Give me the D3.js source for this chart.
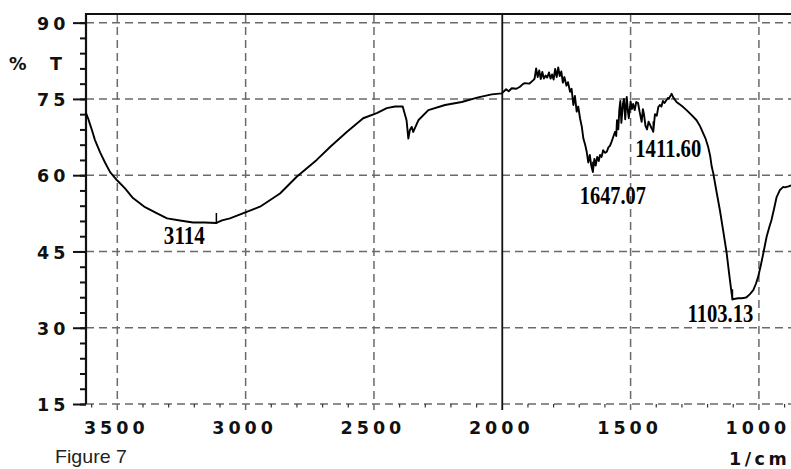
<!DOCTYPE html>
<html>
<head>
<meta charset="utf-8">
<script src="https://cdn.jsdelivr.net/npm/d3@7/dist/d3.min.js"></script>
<style>
  html, body { margin: 0; padding: 0; background: #fff; }
  svg { display: block; }
  .tick-lbl { font-family: "DejaVu Sans", sans-serif; font-weight: bold; font-size: 17.5px; letter-spacing: 4px; fill: #111; }
  .peak-lbl { font-family: "Liberation Serif", "Times New Roman", serif; font-weight: bold; font-size: 25px; fill: #000; }
</style>
</head>
<body>
<svg id="chart" width="791" height="469"></svg>
<script>
// FTIR spectrum: wavenumber (1/cm) against transmittance (%T)
const wavenumber = [
  3622, 3614, 3605, 3599, 3587, 3567, 3548, 3528, 3501, 3470, 3439, 3392, 3345, 3306, 3256, 3205, 3160, 3114,
  3092, 3061, 2996, 2944, 2866, 2801, 2723, 2670, 2606, 2542, 2489, 2450, 2418, 2388, 2373, 2366, 2360, 2353,
  2347, 2327, 2288, 2223, 2158, 2094, 2041, 2002, 1985, 1975, 1963, 1945, 1931, 1920, 1912, 1895, 1879, 1874,
  1868, 1862, 1856, 1850, 1844, 1838, 1831, 1825, 1818, 1812, 1806, 1800, 1794, 1788, 1782, 1776, 1770, 1764,
  1758, 1750, 1744, 1736, 1730, 1723, 1717, 1710, 1704, 1697, 1690, 1684, 1677, 1671, 1665, 1659, 1653, 1647.07,
  1641, 1636, 1630, 1624, 1619, 1613, 1607, 1600, 1593, 1586, 1580, 1574, 1567, 1561, 1556, 1553, 1548, 1544,
  1540, 1536, 1530, 1526, 1521, 1515, 1510, 1507, 1500, 1495, 1490, 1484, 1478, 1471, 1465, 1457, 1452, 1448,
  1442, 1436, 1430, 1425, 1418, 1411.6, 1405, 1398, 1392, 1386, 1380, 1374, 1368, 1360, 1355, 1351, 1346, 1340,
  1334, 1321, 1300, 1282, 1262, 1243, 1229, 1217, 1208, 1198, 1190, 1184, 1178, 1165, 1152, 1139, 1126, 1115,
  1108, 1103.13, 1092, 1081, 1067, 1055, 1048, 1035, 1022, 1012, 1003, 993, 983, 970, 960, 951, 941, 931, 918,
  905, 898, 892, 884, 875
];
const transmittance = [
  72.2, 71.2, 69.8, 68.9, 66.9, 64.5, 62.5, 60.6, 59.0, 57.4, 55.5, 53.7, 52.5, 51.5, 51.1, 50.7, 50.7, 50.6,
  51.1, 51.5, 52.8, 53.8, 56.4, 59.7, 63.0, 65.6, 68.5, 71.2, 72.2, 73.2, 73.5, 73.5, 70.8, 67.2, 68.9, 69.5,
  68.5, 70.8, 72.8, 73.8, 74.4, 75.3, 75.9, 76.1, 76.9, 76.5, 77.1, 77.0, 77.4, 77.9, 78.1, 78.0, 78.7, 79.0,
  81.0, 79.3, 80.6, 78.9, 80.3, 79.0, 79.6, 79.2, 80.2, 79.0, 79.8, 78.8, 80.9, 79.3, 81.2, 79.5, 80.4, 78.2,
  79.3, 77.6, 78.3, 76.4, 77.0, 73.8, 75.6, 72.5, 73.5, 71.2, 69.5, 67.2, 66.0, 64.6, 62.5, 64.0, 61.8, 60.7,
  63.2, 61.9, 63.6, 62.8, 64.0, 63.6, 64.9, 64.4, 64.6, 65.5, 65.8, 66.6, 67.6, 68.5, 67.7, 70.8, 69.0, 72.8,
  74.6, 70.3, 74.0, 75.0, 71.0, 75.4, 72.4, 71.2, 74.5, 73.0, 74.0, 72.8, 74.4, 74.2, 72.5, 70.5, 73.0, 72.0,
  69.7, 69.0, 70.5, 70.0, 69.2, 68.6, 72.0, 71.7, 73.4, 73.8, 73.5, 74.6, 74.2, 74.8, 75.2, 75.0, 75.5, 76.0,
  75.3, 74.4, 73.6, 72.8, 71.8, 70.8, 69.6, 68.2, 67.2, 65.6, 63.8, 61.7, 60.4, 56.7, 53.1, 49.0, 44.8, 40.2,
  37.4, 35.6, 35.7, 35.8, 35.8, 35.9, 36.0, 36.6, 37.4, 38.6, 40.0, 42.2, 44.6, 47.9, 49.7, 51.2, 53.4, 55.7, 57.1,
  57.7, 57.6, 57.7, 57.8, 58.0
];

// Labelled absorption peaks
const peakWavenumbers = [3114, 1647.07, 1411.6, 1103.13];
const peakLabels = ["3114", "1647.07", "1411.60", "1103.13"];

// Axis ticks
const xMajorTicks = [3500, 3000, 2500, 2000, 1500, 1000];
const xTickLabels = ["3500", "3000", "2500", "2000", "1500", "1000"];
const yMajorTicks = [15, 30, 45, 60, 75, 90];
const yTickLabels = ["15", "30", "45", "60", "75", "90"];

const svg = d3.select("#chart");
const plotLeft = 86, plotRight = 791, plotTop = 14, plotBottom = 404;

const x = d3.scaleLinear().domain([3622, 875]).range([plotLeft, plotRight]);
const y = d3.scaleLinear().domain([15, 91.7]).range([plotBottom, plotTop]);

const gridColor = "#6a6a6a";

// dashed grid: horizontal at each major %T, vertical at each major wavenumber (2000 is drawn solid)
svg.append("g").selectAll("line").data(yMajorTicks).join("line")
  .attr("x1", plotLeft).attr("x2", plotRight)
  .attr("y1", d => y(d)).attr("y2", d => y(d))
  .attr("stroke", gridColor).attr("stroke-width", 1.5).attr("stroke-dasharray", "8,5");

svg.append("g").selectAll("line").data(xMajorTicks.filter(d => d !== 2000)).join("line")
  .attr("x1", d => x(d)).attr("x2", d => x(d))
  .attr("y1", plotTop).attr("y2", plotBottom + 6)
  .attr("stroke", gridColor).attr("stroke-width", 1.5).attr("stroke-dasharray", "8,5");

// solid marker line at 2000 1/cm
svg.append("line")
  .attr("x1", x(2000)).attr("x2", x(2000)).attr("y1", plotTop).attr("y2", plotBottom + 6)
  .attr("stroke", "#111").attr("stroke-width", 1.8);

// minor ticks along the wavenumber axis every 100 1/cm
const xMinor = d3.range(3600, 875, -100).filter(d => d % 500 !== 0);
svg.append("g").selectAll("line").data(xMinor).join("line")
  .attr("x1", d => x(d)).attr("x2", d => x(d))
  .attr("y1", plotBottom).attr("y2", plotBottom + 3.5)
  .attr("stroke", "#333").attr("stroke-width", 1.2);

// y axis ticks: minor every 3 %T, major every 15 %T
const yAxisMinor = d3.axisLeft(y).tickValues(d3.range(15, 91, 3)).tickSize(6).tickFormat("");
const gMinor = svg.append("g").attr("transform", `translate(${plotLeft},0)`).call(yAxisMinor);
gMinor.select(".domain").remove();
gMinor.selectAll("line").attr("stroke", "#111").attr("stroke-width", 2);

const yAxisMajor = d3.axisLeft(y).tickValues(yMajorTicks).tickSize(13).tickFormat("");
const gMajor = svg.append("g").attr("transform", `translate(${plotLeft},0)`).call(yAxisMajor);
gMajor.select(".domain").remove();
gMajor.selectAll("line").attr("stroke", "#111").attr("stroke-width", 2);

// y tick labels
svg.append("g").selectAll("text").data(yMajorTicks).join("text")
  .attr("class", "tick-lbl")
  .attr("x", 37).attr("y", d => y(d) + 7.3)
  .text((d, i) => yTickLabels[i]);

// x tick labels
svg.append("g").selectAll("text").data(xMajorTicks).join("text")
  .attr("class", "tick-lbl")
  .attr("text-anchor", "middle")
  .attr("x", d => x(d) - 1).attr("y", 433.5)
  .text((d, i) => xTickLabels[i]);

// frame: left axis and top border
svg.append("line").attr("x1", plotLeft).attr("x2", plotLeft).attr("y1", plotTop - 1).attr("y2", plotBottom)
  .attr("stroke", "#111").attr("stroke-width", 2.2);
svg.append("line").attr("x1", plotLeft - 1).attr("x2", plotRight).attr("y1", plotTop).attr("y2", plotTop)
  .attr("stroke", "#111").attr("stroke-width", 2.2);

// spectrum
const pts = wavenumber.map((w, i) => [w, transmittance[i]]);
svg.append("path").datum(pts)
  .attr("fill", "none").attr("stroke", "#000").attr("stroke-width", 1.9).attr("stroke-linejoin", "round")
  .attr("d", d3.line().x(d => x(d[0])).y(d => y(d[1])));

// peak markers and labels
const labelOffsets = [[-32, 21], [20, 32], [15, 26], [-12, 23]];
const labelWidths = [41, 66, 66, 66];
peakWavenumbers.forEach((w, i) => {
  const t = transmittance[wavenumber.indexOf(w)];
  const px = x(w), py = y(t);
  svg.append("line").attr("x1", px).attr("x2", px).attr("y1", py + 1).attr("y2", py - 10)
    .attr("stroke", "#000").attr("stroke-width", 1.5);
  svg.append("text").attr("class", "peak-lbl")
    .attr("x", px + labelOffsets[i][0]).attr("y", py + labelOffsets[i][1])
    .attr("text-anchor", "middle")
    .attr("textLength", labelWidths[i]).attr("lengthAdjust", "spacingAndGlyphs")
    .text(peakLabels[i]);
});

// axis titles
svg.append("text").attr("class", "tick-lbl").attr("x", 9).attr("y", 70).text("%");
svg.append("text").attr("class", "tick-lbl").attr("x", 50).attr("y", 70).text("T");
svg.append("text").attr("class", "tick-lbl").attr("x", 729).attr("y", 465)
  .style("letter-spacing", "3.5px").text("1/cm");
svg.append("text").attr("x", 55).attr("y", 463)
  .attr("font-family", "Liberation Sans, Arial, sans-serif").attr("font-size", 19).attr("fill", "#222")
  .attr("textLength", 72).attr("lengthAdjust", "spacingAndGlyphs")
  .text("Figure 7");
</script>
</body>
</html>
